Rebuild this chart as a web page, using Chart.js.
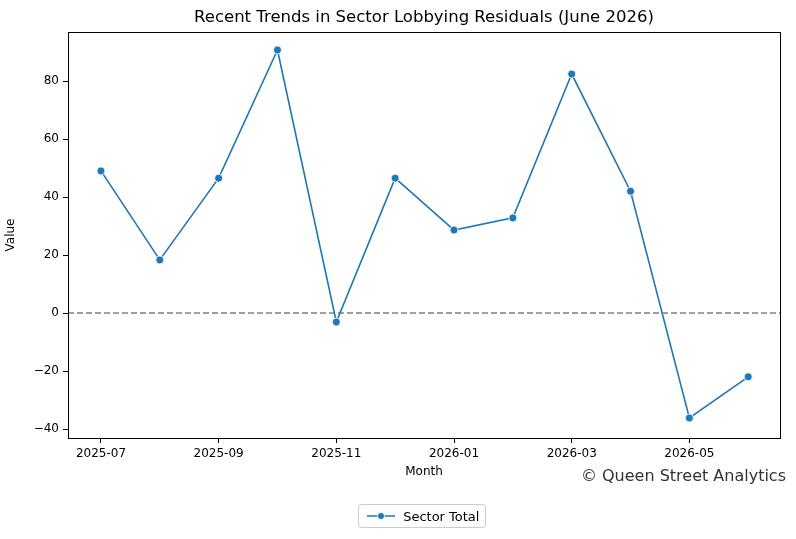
<!DOCTYPE html>
<html><head><meta charset="utf-8">
<script src="https://cdn.jsdelivr.net/npm/chart.js@4"></script>
<style>body{margin:0;background:#fff}#w{position:relative;width:796px;height:539px}
#lg{position:absolute;left:358px;top:504px;height:24px;border:1px solid #ccc;border-radius:3px;font:13px "DejaVu Sans";display:flex;align-items:center;padding:0 6px;box-sizing:border-box}
</style></head><body>
<div id="w"><canvas id="c" width="796" height="539"></canvas>
<div id="lg"><svg width="34" height="10"><line x1="2" y1="5" x2="30" y2="5" stroke="#1f77b4" stroke-width="1.5"/><circle cx="16" cy="5" r="3.5" fill="#1f77b4" stroke="#fff" stroke-width="0.8"/></svg>&nbsp;Sector Total</div></div>
<script>
const months=["2025-07","2025-08","2025-09","2025-10","2025-11","2025-12","2026-01","2026-02","2026-03","2026-04","2026-05","2026-06"];
const values=[49,18.3,46.5,90.7,-3.1,46.5,28.6,32.8,82.4,42,-36.2,-22];
const titleText='Recent Trends in Sector Lobbying Residuals (June 2026)';
const F="DejaVu Sans";
const extra={id:'extra',beforeDatasetsDraw(ch){const c=ch.ctx,y=ch.scales.y.getPixelForValue(0),a=ch.chartArea;c.save();c.strokeStyle='#808080';c.lineWidth=1.5;c.setLineDash([6,3]);c.beginPath();c.moveTo(a.left,y);c.lineTo(a.right,y);c.stroke();c.restore();},
afterDraw(ch){const c=ch.ctx,a=ch.chartArea;c.save();c.strokeStyle='#000';c.lineWidth=1;c.strokeRect(a.left+0.5,a.top+0.5,a.right-a.left,a.bottom-a.top);
c.font='16px '+F;c.fillStyle='#333';c.textAlign='right';c.textBaseline='middle';c.fillText('© Queen Street Analytics',786,477);
c.fillStyle='#000';c.textAlign='center';c.font='16.5px '+F;c.fillText(titleText,(a.left+a.right)/2,18);c.restore();}};
const tk={color:'#000',font:{family:F,size:12}};
new Chart(document.getElementById('c'),{type:'line',
data:{datasets:[{data:months.map((m,i)=>({x:i,y:values[i]})),borderColor:'#1f77b4',backgroundColor:'#1f77b4',borderWidth:1.6,pointRadius:4,pointBorderColor:'#fff',pointBorderWidth:0.8,tension:0}]},
options:{responsive:false,animation:false,layout:{padding:{right:16,top:32}},
plugins:{legend:{display:false},tooltip:{enabled:false},title:{display:false}},
scales:{x:{type:'linear',min:-0.56,max:11.54,afterFit:s=>{s.height=101},afterBuildTicks:s=>{s.ticks=[0,2,4,6,8,10].map(v=>({value:v}))},ticks:{...tk,callback:v=>months[v],maxRotation:0,padding:4},grid:{color:'rgba(0,0,0,0)',drawTicks:true,tickLength:5,tickColor:'#000'},border:{color:'#000'},title:{display:false}},
y:{min:-43.1,max:96.9,afterFit:s=>{s.width=68},afterBuildTicks:s=>{s.ticks=[-40,-20,0,20,40,60,80].map(v=>({value:v}))},ticks:{...tk,callback:v=>String(v).replace('-','\u2212'),padding:4},grid:{color:'rgba(0,0,0,0)',tickLength:5,tickColor:'#000'},border:{color:'#000'},title:{display:true,text:'Value',color:'#000',font:{family:F,size:12},padding:{bottom:6}}}}},
plugins:[extra,{id:'mt',afterDraw(ch){const c=ch.ctx,a=ch.chartArea;c.save();c.font='12px '+F;c.fillStyle='#000';c.textAlign='center';c.textBaseline='middle';c.fillText('Month',(a.left+a.right)/2,472);c.restore();}}]});
</script></body></html>
